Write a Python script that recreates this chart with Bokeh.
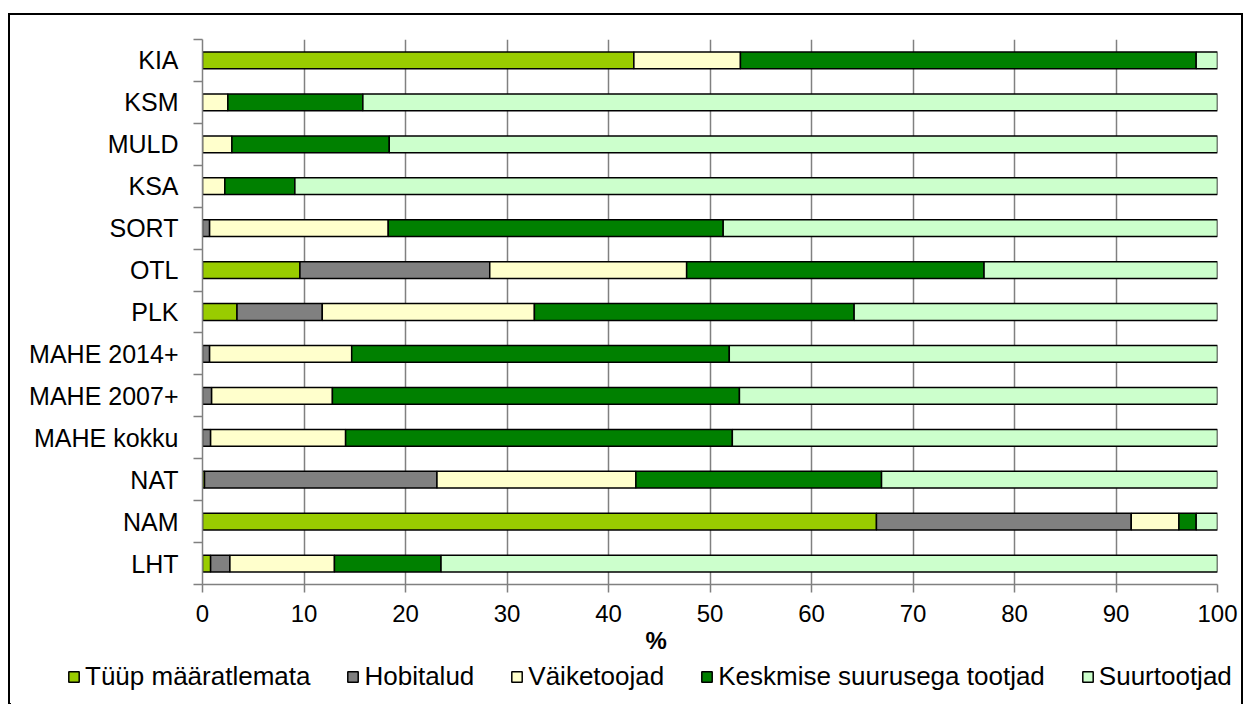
from bokeh.plotting import figure
from bokeh.layouts import column
from bokeh.models import (ColumnDataSource, Range1d, FixedTicker, Legend, LegendItem, Title)
from bokeh.embed import file_html
from bokeh.resources import INLINE

categories = ["KIA", "KSM", "MULD", "KSA", "SORT", "OTL", "PLK", "MAHE 2014+",
              "MAHE 2007+", "MAHE kokku", "NAT", "NAM", "LHT"]
series = ["Tüüp määratlemata", "Hobitalud", "Väiketoojad",
          "Keskmise suurusega tootjad", "Suurtootjad"]
tyyp = [42.5, 0.0, 0.0, 0.0, 0.0, 9.6, 3.4, 0.0, 0.0, 0.0, 0.2, 66.4, 0.8]
hobi = [0.0, 0.0, 0.0, 0.0, 0.7, 18.7, 8.4, 0.7, 0.9, 0.8, 22.9, 25.1, 1.9]
vaike = [10.5, 2.5, 2.9, 2.2, 17.6, 19.4, 20.9, 14.0, 11.9, 13.3, 19.6, 4.7, 10.3]
keskm = [44.9, 13.3, 15.5, 6.9, 33.0, 29.3, 31.5, 37.2, 40.1, 38.1, 24.2, 1.7, 10.5]
suur = [2.1, 84.2, 81.6, 90.9, 48.7, 23.0, 35.8, 48.1, 47.1, 47.8, 33.1, 2.1, 76.5]
x_ticks = [0, 10, 20, 30, 40, 50, 60, 70, 80, 90, 100]
colors = ["#99CC00", "#808080", "#FFFFCC", "#008000", "#CCFFCC"]

FONT = "Liberation Sans"
n = len(categories)
ypos = [n - i - 0.5 for i in range(n)]
stackers = ["s0", "s1", "s2", "s3", "s4"]

source = ColumnDataSource(dict(y=ypos, s0=tyyp, s1=hobi, s2=vaike, s3=keskm, s4=suur))

p = figure(width=1231, height=639, output_backend="svg", toolbar_location=None,
           x_range=Range1d(0, 100), y_range=Range1d(0, n),
           min_border_left=192, min_border_right=24, min_border_top=24, min_border_bottom=70)
p.outline_line_color = None
p.background_fill_color = "white"
p.border_fill_color = "white"

p.hbar_stack(stackers, y="y", height=0.4, color=colors,
             line_color="black", line_width=1.5, source=source)

# x axis
p.xaxis.ticker = FixedTicker(ticks=x_ticks)
p.xaxis.axis_line_color = "#808080"
p.xaxis.axis_line_width = 1.5
p.xaxis.major_tick_line_color = "#808080"
p.xaxis.major_tick_line_width = 1.5
p.xaxis.major_tick_out = 8
p.xaxis.major_tick_in = 0
p.xaxis.minor_tick_line_color = None
p.xaxis.major_label_text_font = FONT
p.xaxis.major_label_text_font_size = "24px"
p.xaxis.major_label_text_color = "black"
p.xaxis.major_label_standoff = 12

# y axis
p.yaxis.ticker = FixedTicker(ticks=ypos, minor_ticks=list(range(0, n + 1)))
p.yaxis.major_label_overrides = {y: c for y, c in zip(ypos, categories)}
p.yaxis.axis_line_color = "#808080"
p.yaxis.axis_line_width = 1.5
p.yaxis.major_tick_line_color = None
p.yaxis.major_tick_out = 0
p.yaxis.major_tick_in = 0
p.yaxis.minor_tick_line_color = "#808080"
p.yaxis.minor_tick_line_width = 1.5
p.yaxis.minor_tick_out = 9
p.yaxis.minor_tick_in = 0
p.yaxis.major_label_text_font = FONT
p.yaxis.major_label_text_font_size = "25px"
p.yaxis.major_label_text_color = "black"
p.yaxis.major_label_standoff = 15

p.xgrid.ticker = FixedTicker(ticks=x_ticks)
p.xgrid.grid_line_color = "#808080"
p.xgrid.grid_line_width = 1.5
p.ygrid.grid_line_color = None

# axis title "%"
p.add_layout(Title(text="%", align="left", offset=443, standoff=0,
                   text_font=FONT, text_font_size="24px", text_font_style="bold",
                   text_color="black"), "below")

# legend panel (separate figure so the legend is not clipped by the chart frame);
# its bars lie outside its visible ranges, only the legend shows
p2 = figure(width=1231, height=50, output_backend="svg", toolbar_location=None,
            x_range=Range1d(1000, 1100), y_range=Range1d(200, 201), min_border=0)
p2.frame_align = False
p2.outline_line_color = None
p2.background_fill_color = "white"
p2.border_fill_color = "white"
p2.axis.visible = False
p2.grid.grid_line_color = None
legend_renderers = p2.hbar_stack(stackers, y="y", height=0.4, color=colors,
                                 line_color="black", line_width=1.5, source=source)

legend = Legend(items=[LegendItem(label=s, renderers=[r]) for s, r in zip(series, legend_renderers)],
                orientation="horizontal", location=(57, 12),
                glyph_width=13, glyph_height=13, label_standoff=5, spacing=36,
                padding=0, margin=0, border_line_color=None, background_fill_alpha=0,
                label_text_font=FONT, label_text_font_size="26px", label_text_color="black")
p2.add_layout(legend, "center")

root = column(p, p2, spacing=0,
              styles={"margin-left": "8px", "margin-top": "13px",
                      "border-left": "2px solid black", "border-top": "2px solid black",
                      "border-right": "2px solid black"})

open("out.html", "w").write(file_html(root, INLINE))
